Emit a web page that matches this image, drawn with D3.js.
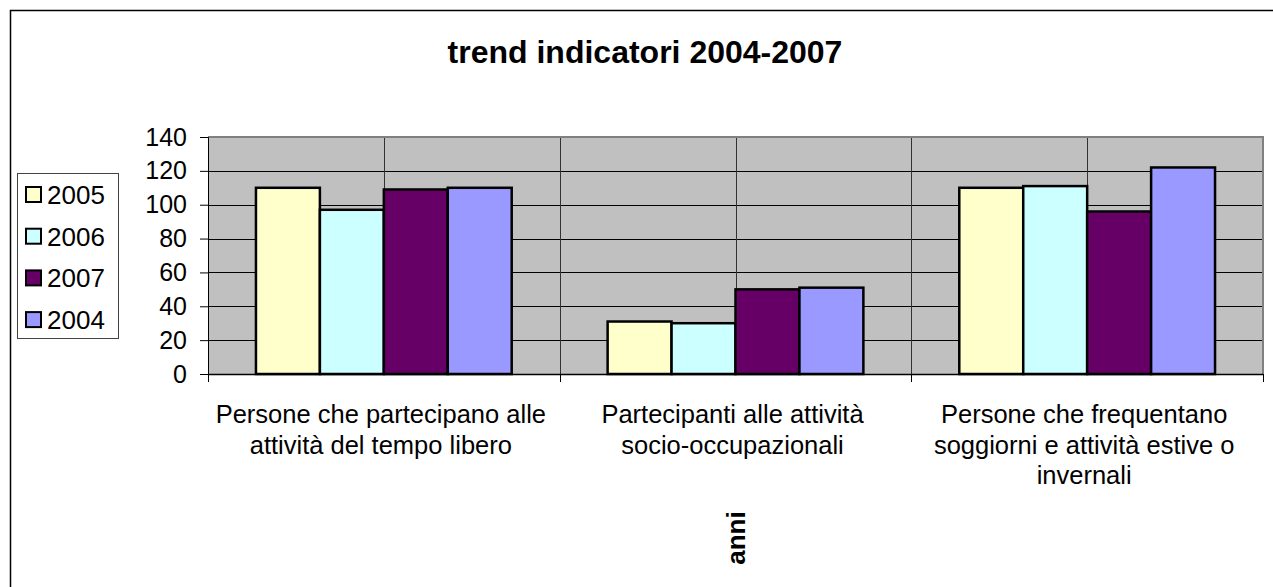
<!DOCTYPE html>
<html>
<head>
<meta charset="utf-8">
<script src="https://cdn.jsdelivr.net/npm/d3@7"></script>
<style>
  body { margin: 0; background: #fff; }
  svg { display: block; font-family: "Liberation Sans", Arial, sans-serif; }
</style>
</head>
<body>
<svg id="chart" width="1273" height="587"></svg>
<script>
// data
const categories = [
  "Persone che partecipano alle\nattività del tempo libero",
  "Partecipanti alle attività\nsocio-occupazionali",
  "Persone che frequentano\nsoggiorni e attività estive o\ninvernali"
];
const series = ["2005", "2006", "2007", "2004"];
const values2005 = [110, 31, 110];
const values2006 = [97, 30, 111];
const values2007 = [109, 50, 96];
const values2004 = [110, 51, 122];
const yTicks = [0, 20, 40, 60, 80, 100, 120, 140];
const colors = ["#FFFFCC", "#CCFFFF", "#660066", "#9999FF"];

const valuesBySeries = [values2005, values2006, values2007, values2004];

const svg = d3.select("#chart");
const plot = { left: 208, right: 1263, top: 137, bottom: 374 };

// outer chart border
svg.append("rect")
  .attr("x", 10.5).attr("y", 10.5)
  .attr("width", 1300).attr("height", 700)
  .attr("fill", "#fff").attr("stroke", "#000").attr("stroke-width", 1.5);

const x0 = d3.scaleBand()
  .domain(d3.range(categories.length))
  .range([plot.left, plot.right])
  .paddingInner(0).paddingOuter(0);

const x1 = d3.scaleBand()
  .domain(series)
  .range([0, x0.bandwidth()])
  .paddingInner(0).paddingOuter(0.75);

const y = d3.scaleLinear().domain([0, 140]).range([plot.bottom, plot.top]);

// plot background
svg.append("rect")
  .attr("x", plot.left).attr("y", plot.top)
  .attr("width", plot.right - plot.left).attr("height", plot.bottom - plot.top)
  .attr("fill", "#C0C0C0");

// horizontal gridlines
svg.append("g")
  .selectAll("line")
  .data(yTicks.slice(1))
  .join("line")
  .attr("x1", plot.left).attr("x2", plot.right)
  .attr("y1", (d) => Math.round(y(d)) + 0.5)
  .attr("y2", (d) => Math.round(y(d)) + 0.5)
  .attr("stroke", "#000").attr("stroke-width", 1);

// vertical gridlines at category edges and middles
const vLines = [];
categories.forEach((c, i) => {
  vLines.push(x0(i) + x0.bandwidth() / 2);
  if (i > 0) vLines.push(x0(i));
});
svg.append("g")
  .selectAll("line")
  .data(vLines)
  .join("line")
  .attr("x1", (d) => Math.round(d) + 0.5).attr("x2", (d) => Math.round(d) + 0.5)
  .attr("y1", plot.top).attr("y2", plot.bottom)
  .attr("stroke", "#333").attr("stroke-width", 1);

// plot border top/right
svg.append("path")
  .attr("d", `M${plot.left},${plot.top}H${plot.right}V${plot.bottom}`)
  .attr("fill", "none").attr("stroke", "#808080").attr("stroke-width", 2);

// bars
const groups = svg.append("g")
  .selectAll("g")
  .data(categories.map((c, i) => i))
  .join("g")
  .attr("transform", (i) => `translate(${x0(i)},0)`);

groups.selectAll("rect")
  .data((i) => series.map((s, k) => ({ s, k, v: valuesBySeries[k][i] })))
  .join("rect")
  .attr("x", (d) => x1(d.s))
  .attr("y", (d) => y(d.v))
  .attr("width", x1.bandwidth())
  .attr("height", (d) => y(0) - y(d.v))
  .attr("fill", (d) => colors[d.k])
  .attr("stroke", "#000").attr("stroke-width", 2.5);

// y axis
const yAxis = d3.axisLeft(y).tickValues(yTicks).tickSize(8).tickPadding(13);
const gy = svg.append("g")
  .attr("transform", `translate(${plot.left},0)`)
  .call(yAxis);
gy.select(".domain").attr("stroke", "#000").attr("stroke-width", 1);
gy.selectAll(".tick line").attr("stroke", "#000");
gy.selectAll(".tick text")
  .attr("font-size", 25).attr("fill", "#000")
  .attr("font-family", "Liberation Sans, Arial, sans-serif");

// x axis line and ticks at category edges
svg.append("line")
  .attr("x1", plot.left).attr("x2", plot.right)
  .attr("y1", plot.bottom + 0.5).attr("y2", plot.bottom + 0.5)
  .attr("stroke", "#000").attr("stroke-width", 1.5);
const edges = categories.map((c, i) => x0(i)).concat([plot.right]);
svg.append("g")
  .selectAll("line")
  .data(edges)
  .join("line")
  .attr("x1", (d) => Math.round(d) + 0.5).attr("x2", (d) => Math.round(d) + 0.5)
  .attr("y1", plot.bottom).attr("y2", plot.bottom + 8)
  .attr("stroke", "#000");

// category labels
svg.append("g")
  .selectAll("text")
  .data(categories)
  .join("text")
  .attr("text-anchor", "middle")
  .attr("font-size", 25.5)
  .attr("fill", "#000")
  .each(function (d, i) {
    const lines = d.split("\n");
    d3.select(this).selectAll("tspan")
      .data(lines)
      .join("tspan")
      .attr("x", x0(i) + x0.bandwidth() / 2 - 3)
      .attr("y", (l, j) => 423 + j * 30.5)
      .text((l) => l);
  });

// title
svg.append("text")
  .attr("x", 645).attr("y", 63)
  .attr("text-anchor", "middle")
  .attr("font-size", 32).attr("font-weight", "bold")
  .text("trend indicatori 2004-2007");

// axis title
svg.append("text")
  .attr("transform", `translate(${(plot.left + plot.right) / 2 + 9},538) rotate(-90)`)
  .attr("text-anchor", "middle")
  .attr("font-size", 26).attr("font-weight", "bold")
  .text("anni");

// legend
const legend = svg.append("g");
legend.append("rect")
  .attr("x", 17.5).attr("y", 173.5)
  .attr("width", 101).attr("height", 165)
  .attr("fill", "#fff").attr("stroke", "#444").attr("stroke-width", 1);
const item = legend.selectAll("g.item")
  .data(series)
  .join("g")
  .attr("class", "item")
  .attr("transform", (d, i) => `translate(0,${195 + i * 41.7})`);
item.append("rect")
  .attr("x", 26).attr("y", -8)
  .attr("width", 15).attr("height", 15)
  .attr("fill", (d, i) => colors[i])
  .attr("stroke", "#000").attr("stroke-width", 2);
item.append("text")
  .attr("x", 47).attr("y", 9)
  .attr("font-size", 26)
  .text((d) => d);
</script>
</body>
</html>
